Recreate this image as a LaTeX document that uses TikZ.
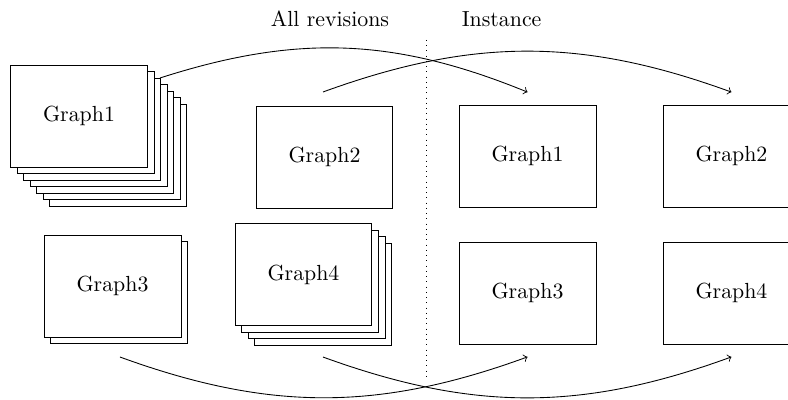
\documentclass[tikz,border=0pt]{standalone}
\usepackage{amsmath}
\usepackage{tikz}
\tikzset{
    graphbox/.style={draw, fill=white, minimum width=2.2cm, minimum height=1.64cm, inner sep=0pt},
}

\begin{document}
\begin{tikzpicture}
                \useasboundingbox (0,0) rectangle (12.669,-6.415);

                % all revisions
                \foreach \k in {6,5,4,3,2,1} {
                        \node[graphbox] (gones\k) at (1.270+\k*0.105, -1.865-\k*0.105) {};
                    }
                \node[graphbox] (gone) at (1.270,-1.865) {Graph1};

                \node[graphbox] (gtwo) at (5.217,-2.524) {Graph2};

                \node[graphbox] (gthrees1) at (1.809+0.105,-4.598-0.105) {};
                \node[graphbox] (gthree) at (1.809,-4.598) {Graph3};

                \foreach \k in {3,2,1} {
                        \node[graphbox] (gfours\k) at (4.879+\k*0.105, -4.413-\k*0.105) {};
                    }
                \node[graphbox] (gfour) at (4.879,-4.413) {Graph4};

                % instance
                \node[graphbox] (igone) at (8.481,-2.508) {Graph1};
                \node[graphbox] (igtwo) at (11.760,-2.508) {Graph2};
                \node[graphbox] (igthree) at (8.481,-4.711) {Graph3};
                \node[graphbox] (igfour) at (11.760,-4.711) {Graph4};

                \draw[dotted] (6.849,-0.643) -- (6.849,-6.061);
                \node (allrev) at (6.38,-0.305) [anchor=east] {All revisions};
                \node (inst) at (7.30,-0.305) [anchor=west] {Instance};

                \coordinate (aone) at (2.572,-1.254);
                \coordinate (atwo) at (5.193,-1.479);
                \coordinate (athree) at (1.929,-5.740);
                \coordinate (afour) at (5.193,-5.740);

                \draw[->] (aone) to[bend left=20] ([yshift=0.2cm]igone.north);
                \draw[->] (atwo) to[bend left=20] ([yshift=0.2cm]igtwo.north);
                \draw[->] (athree) to[bend right=20] ([yshift=-0.2cm]igthree.south);
                \draw[->] (afour) to[bend right=20] ([yshift=-0.2cm]igfour.south);

            \end{tikzpicture}
\end{document}
